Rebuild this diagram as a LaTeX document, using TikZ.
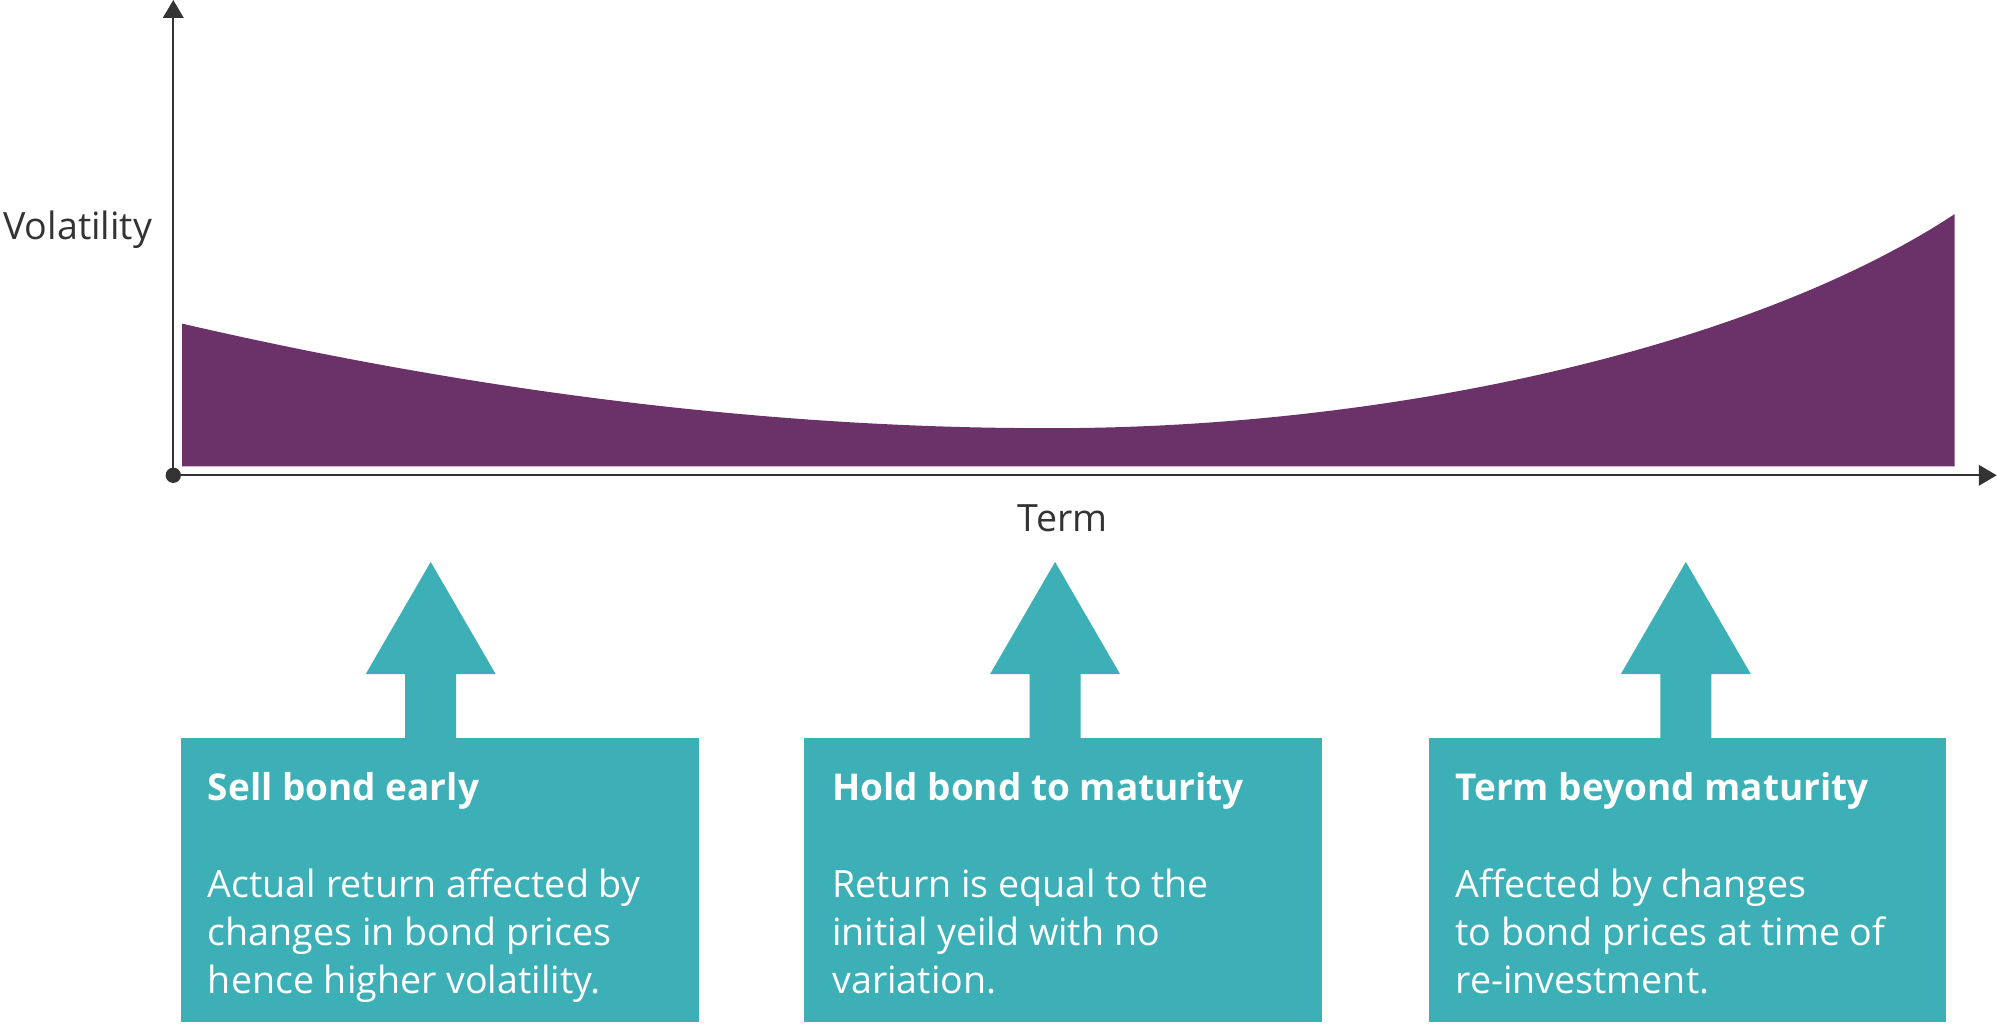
\documentclass[tikz,border=0pt]{standalone}
\usepackage{fontspec}
\setmainfont{Open Sans}
\usetikzlibrary{arrows.meta}
\definecolor{purp}{HTML}{6B3169}
\definecolor{tealc}{HTML}{3DAFB6}
\definecolor{axisc}{HTML}{333333}
\begin{document}
\begin{tikzpicture}[x=1pt,y=-1pt,
  box/.style={fill=tealc, draw=none, anchor=north west, minimum width=406pt, minimum height=223pt, inner sep=0pt},
  uparrow/.style={fill=tealc},
  boxtitle/.style={anchor=base west, inner sep=0pt, text=white, font=\fontsize{29}{32}\selectfont\bfseries},
  boxbody/.style={anchor=base west, inner sep=0pt, text=white, font=\fontsize{29.5}{32}\selectfont},
  axislabel/.style={text=axisc, font=\fontsize{29.5}{32}\selectfont, inner sep=0pt},
  axisline/.style={draw=axisc, line width=1.6pt, -{Triangle[length=14pt,width=16pt]}}
]
\useasboundingbox (0,0) rectangle (1568,803);
% area
\fill[purp] (143,366) -- (143,254) .. controls (420,318) and (650,336) .. (820,336)
  .. controls (1080,337) and (1370,276) .. (1534,168) -- (1534,366) -- cycle;
% axes
\coordinate (O) at (136,373);
\coordinate (ytop) at (136,0);
\coordinate (xend) at (1567,373);
\draw[axisline] (O) -- (ytop);
\draw[axisline] (O) -- (xend);
\fill[axisc] (O) circle (6pt);
\node[axislabel] (vol) at (61,180) {Volatility};
\node[axislabel] (term) at (834,407) {Term};
% arrows
\fill[uparrow] (318,580) -- (318,529) -- (287,529) -- (338,441) -- (389,529) -- (358,529) -- (358,580) -- cycle;
\fill[uparrow] (808,580) -- (808,529) -- (777,529) -- (828,441) -- (879,529) -- (848,529) -- (848,580) -- cycle;
\fill[uparrow] (1303,580) -- (1303,529) -- (1272,529) -- (1323,441) -- (1374,529) -- (1343,529) -- (1343,580) -- cycle;
% boxes
\node[box] (b1) at (142,579) {};
\node[box] (b2) at (631,579) {};
\node[box] (b3) at (1121,579) {};
% box 1 text
\node[boxtitle] (t1) at (163,628) {Sell bond early};
\node[boxbody] (t1a) at (163,704) {Actual return affected by};
\node[boxbody] (t1b) at (163,742) {changes in bond prices};
\node[boxbody] (t1c) at (163,780) {hence higher volatility.};
% box 2 text
\node[boxtitle] (t2) at (653,628) {Hold bond to maturity};
\node[boxbody] (t2a) at (653,704) {Return is equal to the};
\node[boxbody] (t2b) at (653,742) {initial yeild with no};
\node[boxbody] (t2c) at (653,780) {variation.};
% box 3 text
\node[boxtitle] (t3) at (1142,628) {Term beyond maturity};
\node[boxbody] (t3a) at (1142,704) {Affected by changes};
\node[boxbody] (t3b) at (1142,742) {to bond prices at time of};
\node[boxbody] (t3c) at (1142,780) {re-investment.};
\end{tikzpicture}
\end{document}
